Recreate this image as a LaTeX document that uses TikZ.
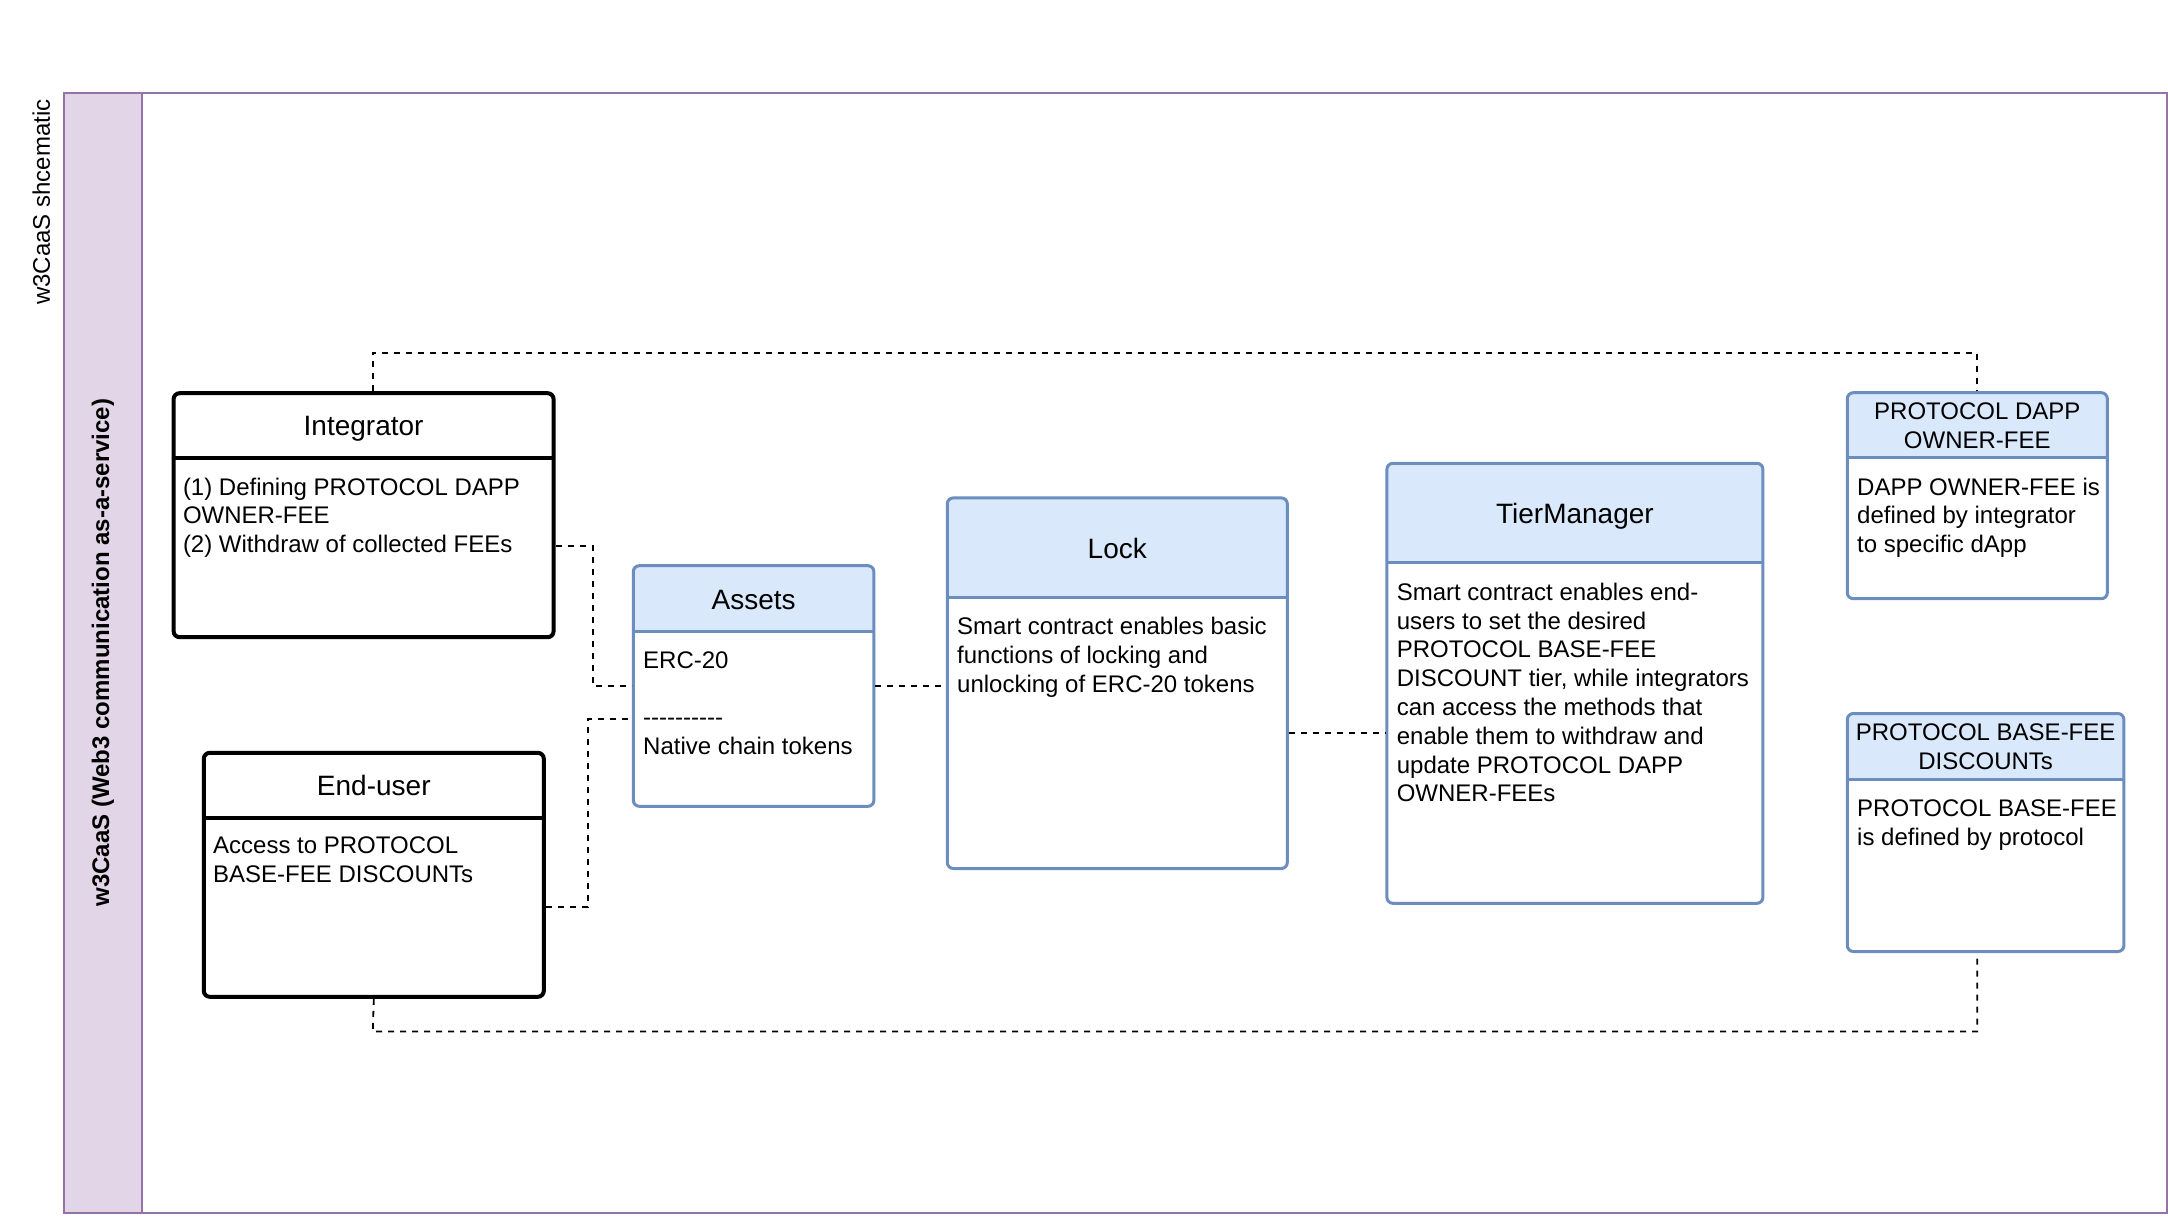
\documentclass[tikz,border=0pt]{standalone}
\usepackage{fontspec}
\setmainfont{Liberation Sans}
\definecolor{headblue}{HTML}{DAE8FC}
\definecolor{lineblue}{HTML}{6C8EBF}
\definecolor{lanefill}{HTML}{E1D5E7}
\definecolor{laneline}{HTML}{9673A6}
\tikzset{
  box/.style={rounded corners=3pt, inner sep=0pt, anchor=north west, fill=white},
  blackbox/.style={box, draw=black, line width=2pt},
  bluebox/.style={box, draw=lineblue, line width=1.5pt},
  head/.style n args={3}{path picture={
    \fill[#1, sharp corners] (path picture bounding box.north west) rectangle ([yshift=-#3]path picture bounding box.north east);
    \draw[#2, sharp corners] ([yshift=-#3]path picture bounding box.north west) -- ([yshift=-#3]path picture bounding box.north east);}},
  boxtitle/.style={font=\fontsize{14}{16.8}\selectfont, inner sep=0pt, text depth=0pt, align=center},
  hdtext/.style={font=\fontsize{12}{14.4}\selectfont, inner sep=0pt, text depth=0pt, align=center},
  body/.style={font=\fontsize{12}{14.4}\selectfont, inner sep=0pt, anchor=north west, align=left},
  link/.style={line width=0.9pt, dash pattern=on 3pt off 3pt}
}

\begin{document}
\begin{tikzpicture}[x=1pt, y=-1pt]
    \useasboundingbox (0,0) rectangle (1084,608);
    \fill[lanefill] (31.8,46.3) rectangle (71.2,606.3);
    \draw[laneline, line width=1pt] (31.8,46.3) rectangle (1083.3,606.3);
    \draw[laneline, line width=1pt] (71.2,46.3) -- (71.2,606.3);
    \node[rotate=90, inner sep=0pt, font=\fontsize{12}{14.4}\selectfont] (schema) at (20.7,101) {w3CaaS shcematic};
    \node[rotate=90, inner sep=0pt, font=\bfseries\fontsize{12}{14.4}\selectfont] (lane) at (51.5,326.3) {w3CaaS (Web3 communication as-a-service)};

    \node[blackbox, head={white}{black, line width=2pt}{32.5pt}, minimum width=190pt, minimum height=122pt] (integ) at (85.8,195.6) {};
    \node[boxtitle] (integ-t) at ([yshift=-17.4pt]integ.north) {Integrator};
    \node[body] (integ-b) at ([xshift=5.5pt, yshift=-43pt]integ.north west) {(1) Defining PROTOCOL DAPP\\OWNER-FEE\\(2) Withdraw of collected FEEs};

    \node[blackbox, head={white}{black, line width=2pt}{32.5pt}, minimum width=170pt, minimum height=122pt] (user) at (100.9,375.4) {};
    \node[boxtitle] (user-t) at ([yshift=-17.4pt]user.north) {End-user};
    \node[body] (user-b) at ([xshift=5.5pt, yshift=-43pt]user.north west) {Access to PROTOCOL\\BASE-FEE DISCOUNTs};

    \node[bluebox, head={headblue}{lineblue, line width=1.5pt}{33pt}, minimum width=120.3pt, minimum height=120.3pt] (assets) at (315.9,282.1) {};
    \node[boxtitle] (assets-t) at ([yshift=-17.6pt]assets.north) {Assets};
    \node[body] (assets-b) at ([xshift=5.5pt, yshift=-43.5pt]assets.north west) {ERC-20\\ \\-{}-{}-{}-{}-{}-{}-{}-{}-{}-\\Native chain tokens};

    \node[bluebox, head={headblue}{lineblue, line width=1.5pt}{49.8pt}, minimum width=170pt, minimum height=185.3pt] (lock) at (472.9,248.2) {};
    \node[boxtitle] (lock-t) at ([yshift=-26pt]lock.north) {Lock};
    \node[body] (lock-b) at ([xshift=5.5pt, yshift=-60.3pt]lock.north west) {Smart contract enables basic\\functions of locking and\\unlocking of ERC-20 tokens};

    \node[bluebox, head={headblue}{lineblue, line width=1.5pt}{49.8pt}, minimum width=188pt, minimum height=220pt] (tier) at (692.7,230.9) {};
    \node[boxtitle] (tier-t) at ([yshift=-26pt]tier.north) {TierManager};
    \node[body] (tier-b) at ([xshift=5.5pt, yshift=-60.3pt]tier.north west) {Smart contract enables end-\\users to set the desired\\PROTOCOL BASE-FEE\\DISCOUNT tier, while integrators\\can access the methods that\\enable them to withdraw and\\update PROTOCOL DAPP\\OWNER-FEEs};

    \node[bluebox, head={headblue}{lineblue, line width=1.5pt}{32.5pt}, minimum width=130pt, minimum height=103pt] (dapp) at (922.9,195.6) {};
    \node[hdtext] (dapp-t) at ([yshift=-17.2pt]dapp.north) {PROTOCOL DAPP\\OWNER-FEE};
    \node[body] (dapp-b) at ([xshift=5.5pt, yshift=-43pt]dapp.north west) {DAPP OWNER-FEE is\\defined by integrator\\to specific dApp};

    \node[bluebox, head={headblue}{lineblue, line width=1.5pt}{33.2pt}, minimum width=138.3pt, minimum height=119pt] (base) at (922.9,356) {};
    \node[hdtext] (base-t) at ([yshift=-17.5pt]base.north) {PROTOCOL BASE-FEE\\DISCOUNTs};
    \node[body] (base-b) at ([xshift=5.5pt, yshift=-43.7pt]base.north west) {PROTOCOL BASE-FEE\\is defined by protocol};

    \coordinate (topbend) at (186.4,176.3);
    \coordinate (botbend) at (186.4,515.7);
    \coordinate (integbend) at (296.6,273.1);
    \coordinate (userbend) at (293.8,453.5);
    \coordinate (userjoin) at (293.8,359.5);
    \coordinate (tierjoin) at (660,366.4);
    \draw[link] (topbend |- integ.north) -- (topbend) -| (dapp.north);
    \draw[link] (user.south) -- (botbend) -| (dapp.north |- base.south);
    \draw[link] (integ.east |- integbend) -- (integbend) |- (assets.west);
    \draw[link] (user.east |- userbend) -- (userbend) -- (userjoin) -- (assets.west |- userjoin);
    \draw[link] (assets.east) -- (assets.east -| lock.west);
    \draw[link] (lock.east |- tierjoin) -- (tier.west |- tierjoin);
\end{tikzpicture}
\end{document}
